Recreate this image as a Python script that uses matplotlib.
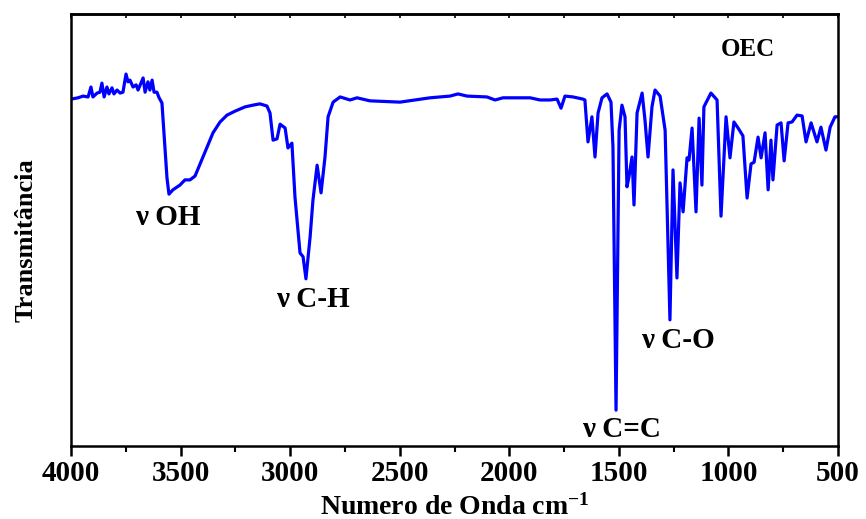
import matplotlib

matplotlib.use("Agg")
import matplotlib.pyplot as plt  # noqa: E402
from matplotlib.ticker import MultipleLocator  # noqa: E402

# FTIR spectrum of the OEC sample (wavenumber in cm-1, transmittance in a.u.)
wavenumber = [
    4000, 3968, 3945, 3922, 3909, 3900, 3881, 3868, 3859, 3849,
    3836, 3827, 3813, 3804, 3790, 3776, 3763, 3749, 3740, 3731,
    3717, 3703, 3694, 3681, 3671, 3662, 3649, 3640, 3630, 3621,
    3608, 3598, 3585, 3576, 3562, 3553, 3535, 3503, 3480, 3457,
    3434, 3411, 3379, 3352, 3320, 3288, 3252, 3206, 3170, 3138,
    3106, 3092, 3078, 3060, 3046, 3023, 3010, 2992, 2978, 2955,
    2941, 2928, 2909, 2896, 2877, 2859, 2841, 2827, 2804, 2772,
    2727, 2695, 2636, 2499, 2362, 2271, 2234, 2193, 2102, 2065,
    2029, 1965, 1905, 1860, 1814, 1782, 1764, 1746, 1709, 1664,
    1655, 1641, 1623, 1609, 1595, 1577, 1554, 1536, 1527, 1513,
    1499, 1486, 1472, 1463, 1454, 1440, 1431, 1417, 1394, 1381,
    1367, 1349, 1335, 1312, 1289, 1267, 1253, 1235, 1221, 1207,
    1189, 1180, 1166, 1148, 1134, 1121, 1112, 1080, 1052, 1034,
    1011, 993, 975, 956, 934, 915, 897, 883, 865, 851,
    833, 819, 806, 797, 778, 760, 746, 728, 710, 687,
    664, 646, 623, 596, 578, 555, 536, 514, 500,
]
transmittance = [
    80.3, 80.6, 81.0, 80.8, 83.1, 80.8, 81.7, 81.9, 84.0, 80.8,
    83.1, 81.5, 82.9, 81.5, 82.4, 81.7, 81.9, 86.1, 84.3, 84.7,
    83.1, 83.6, 82.4, 84.0, 85.2, 81.9, 84.3, 82.4, 84.7, 81.9,
    81.9, 80.6, 79.4, 72.7, 62.0, 58.3, 59.3, 60.4, 61.6, 61.6,
    62.5, 65.3, 69.2, 72.5, 75.0, 76.6, 77.5, 78.5, 78.9, 79.2,
    78.7, 77.1, 70.8, 71.1, 74.5, 73.6, 69.0, 70.1, 57.6, 44.7,
    43.8, 38.7, 48.4, 56.9, 65.0, 58.6, 66.9, 76.2, 79.6, 80.8,
    80.1, 80.6, 79.9, 79.6, 80.6, 81.0, 81.5, 81.0, 80.8, 80.1,
    80.6, 80.6, 80.6, 80.1, 80.1, 80.3, 78.2, 81.0, 80.8, 80.3,
    80.1, 70.4, 76.2, 66.9, 77.1, 80.6, 81.5, 79.6, 69.2, 8.3,
    73.1, 78.9, 76.2, 60.0, 62.3, 66.9, 55.8, 77.1, 81.7, 75.5,
    66.9, 78.5, 82.4, 81.0, 73.1, 29.2, 63.9, 38.9, 60.9, 54.2,
    66.7, 66.2, 73.6, 54.2, 75.9, 60.4, 78.5, 81.7, 80.1, 53.2,
    76.2, 66.7, 75.0, 73.6, 71.8, 57.4, 65.3, 65.7, 71.5, 66.7,
    72.5, 59.3, 70.8, 61.6, 74.3, 74.8, 66.0, 74.8, 75.0, 76.6,
    76.4, 70.4, 74.8, 70.4, 73.8, 68.5, 73.8, 76.2, 76.2,
]

# band assignments: (label, wavenumber, transmittance)
band_labels = ["ν OH", "ν C-H", "ν C=C", "ν C-O"]
band_x = [3557, 2896, 1486, 1230]
band_y = [52.8, 33.8, 3.7, 24.5]

plt.rcParams["font.family"] = ["Liberation Serif", "DejaVu Serif"]
plt.rcParams["font.weight"] = "bold"
plt.rcParams["mathtext.fontset"] = "custom"
plt.rcParams["mathtext.rm"] = "Liberation Serif:bold"
plt.rcParams["mathtext.default"] = "rm"

fig = plt.figure(figsize=(8.66, 5.19), dpi=100)
ax = fig.add_axes([0.082, 0.1407, 0.8857, 0.8323])

ax.plot(wavenumber, transmittance, color="#0000ff", lw=2.3, solid_joinstyle="round")

ax.set_xlim(4000, 500)
ax.set_ylim(0, 100)

ax.xaxis.set_major_locator(MultipleLocator(500))
ax.xaxis.set_minor_locator(MultipleLocator(250))
ax.tick_params(axis="x", which="major", direction="out", length=7, width=1.8,
               labelsize=21, pad=3)
ax.tick_params(axis="x", which="minor", direction="out", length=4, width=1.5)
ax.tick_params(axis="x", which="both", top=False)
ax.set_yticks([])
for lab in ax.get_xticklabels():
    lab.set_fontweight("bold")

# short inward marks along the top frame
top = ax.secondary_xaxis("top")
top.xaxis.set_major_locator(MultipleLocator(250))
top.tick_params(direction="in", length=3, width=1.2, labeltop=False)
top.spines["top"].set_linewidth(1.8)

for spine in ax.spines.values():
    spine.set_linewidth(1.8)

ax.set_xlabel("Numero de Onda cm$^{-1}$", fontsize=20, fontweight="bold",
              labelpad=5)
ax.set_ylabel("Transmitância", fontsize=19, fontweight="bold")
ax.yaxis.set_label_coords(-0.043, 0.477)

for text, x, y in zip(band_labels, band_x, band_y):
    ax.text(x, y, text, fontsize=21, fontweight="bold", ha="center", va="center")

ax.text(911, 91.7, "OEC", fontsize=18, fontweight="bold", ha="center", va="center")

fig.savefig("out.png", dpi=100)
